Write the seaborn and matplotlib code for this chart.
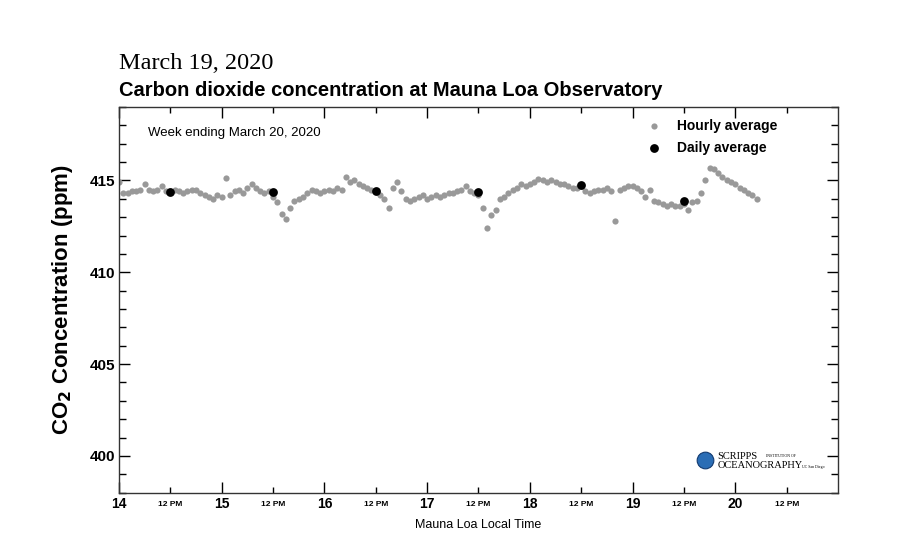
import numpy as np
import pandas as pd
import matplotlib
matplotlib.use("Agg")
import matplotlib.pyplot as plt
import seaborn as sns
from matplotlib.ticker import MultipleLocator

# Hourly averages (ppm), one list per day of March 2020, hours 0..23
hourly_14 = [414.9, 414.3, 414.3, 414.4, 414.4, 414.5, 414.8, 414.5, 414.4, 414.5, 414.7, 414.4,
             414.4, 414.5, 414.4, 414.3, 414.4, 414.5, 414.5, 414.3, 414.2, 414.1, 414.0, 414.2]
hourly_15 = [414.1, 415.15, 414.2, 414.4, 414.5, 414.3, 414.6, 414.8, 414.6, 414.4, 414.3, 414.4,
             414.1, 413.8, 413.2, 412.9, 413.5, 413.9, 414.0, 414.1, 414.3, 414.5, 414.4, 414.3]
hourly_16 = [414.4, 414.5, 414.4, 414.6, 414.5, 415.2, 414.9, 415.0, 414.8, 414.7, 414.6, 414.5,
             414.4, 414.2, 414.0, 413.5, 414.6, 414.9, 414.4, 414.0, 413.9, 414.0, 414.1, 414.2]
hourly_17 = [414.0, 414.1, 414.2, 414.1, 414.2, 414.3, 414.3, 414.4, 414.5, 414.7, 414.4, 414.3,
             414.2, 413.5, 412.4, 413.1, 413.4, 414.0, 414.1, 414.3, 414.5, 414.6, 414.8, 414.7]
hourly_18 = [414.8, 414.9, 415.1, 415.0, 414.9, 415.0, 414.9, 414.8, 414.8, 414.7, 414.6, 414.6,
             414.7, 414.4, 414.3, 414.4, 414.5, 414.5, 414.6, 414.4, 412.8, 414.5, 414.6, 414.7]
hourly_19 = [414.7, 414.6, 414.4, 414.1, 414.5, 413.9, 413.8, 413.7, 413.6, 413.7, 413.6, 413.6,
             413.7, 413.4, 413.8, 413.9, 414.3, 415.0, 415.7, 415.6, 415.4, 415.2, 415.0, 414.9]
hourly_20 = [414.8, 414.6, 414.5, 414.3, 414.2, 414.0]

daily_days = [14.5, 15.5, 16.5, 17.5, 18.5, 19.5]
daily_values = [414.35, 414.35, 414.45, 414.35, 414.73, 413.86]

day_ticks = [14, 15, 16, 17, 18, 19, 20]
day_labels = ["14", "15", "16", "17", "18", "19", "20"]
noon_ticks = [14.5, 15.5, 16.5, 17.5, 18.5, 19.5, 20.5]

# build the hourly table
rows = []
for day, vals in zip(day_ticks, [hourly_14, hourly_15, hourly_16, hourly_17,
                                 hourly_18, hourly_19, hourly_20]):
    for h, v in enumerate(vals):
        rows.append({"day": day + h / 24, "co2": v})
hourly = pd.DataFrame(rows)
daily = pd.DataFrame({"day": daily_days, "co2": daily_values})

sns.set_style("ticks")
plt.rcParams["font.family"] = ["Liberation Sans", "DejaVu Sans"]
for key in ["text.color", "axes.labelcolor", "xtick.color", "ytick.color"]:
    plt.rcParams[key] = "black"

fig = plt.figure(figsize=(9, 5.4), dpi=100)
ax = fig.add_axes([0.1322, 0.0876, 0.7989, 0.7143])

sns.scatterplot(data=hourly, x="day", y="co2", color="#999999", s=20,
                linewidth=0, ax=ax, label="Hourly average", zorder=2)
sns.scatterplot(data=daily, x="day", y="co2", color="black", s=40,
                linewidth=0, ax=ax, label="Daily average", zorder=3)

ax.set_xlim(14, 21)
ax.set_ylim(398, 419)

# x ticks: days (major) and 12 PM (minor)
ax.set_xticks(day_ticks, labels=day_labels)
ax.set_xticks(noon_ticks, labels=["12 PM"] * len(noon_ticks), minor=True)
ax.tick_params(axis="x", which="major", direction="in", length=8, width=1,
               top=True, labelsize=10, pad=3)
ax.tick_params(axis="x", which="minor", direction="in", length=4, width=1,
               top=True, labelsize=6, pad=6)
for lbl in ax.get_xticklabels(which="both"):
    lbl.set_fontweight("bold")

# y ticks
ax.set_yticks([400, 405, 410, 415])
ax.yaxis.set_minor_locator(MultipleLocator(1))
ax.tick_params(axis="y", which="major", direction="in", length=8, width=1,
               right=True, labelsize=11, pad=3)
ax.tick_params(axis="y", which="minor", direction="in", length=5, width=1,
               right=True)
for lbl in ax.get_yticklabels():
    lbl.set_fontweight("bold")

for sp in ax.spines.values():
    sp.set_visible(True)
    sp.set_linewidth(1)
    sp.set_color("#333333")

ax.set_xlabel("Mauna Loa Local Time", fontsize=9, labelpad=6)
ax.set_ylabel(r"CO$_\mathbf{2}$ Concentration (ppm)", fontsize=16,
              fontweight="bold", labelpad=10)

leg = ax.legend(loc="upper left", bbox_to_anchor=(0.734, 0.97), frameon=False,
                handlelength=1, handletextpad=1.2, labelspacing=0.6,
                borderpad=0, borderaxespad=0,
                prop={"weight": "bold", "size": 10})

ax.text(0.04, 0.933, "Week ending March 20, 2020", transform=ax.transAxes,
        fontsize=9.5, va="center", ha="left")

# titles
fig.text(0.132, 0.872, "March 19, 2020", fontsize=17.5, family="Liberation Serif",
         ha="left", va="baseline")
fig.text(0.132, 0.822, "Carbon dioxide concentration at Mauna Loa Observatory",
         fontsize=14.5, fontweight="bold", ha="left", va="baseline")

# Scripps logo (text version)
ax.plot([0.815], [0.085], marker="o", markersize=12, color="#2a6db5",
        markeredgecolor="#123a70", markeredgewidth=0.8,
        transform=ax.transAxes, clip_on=False, zorder=4)
ax.text(0.832, 0.095, "SCRIPPS", transform=ax.transAxes, fontsize=7.5,
        family="Liberation Serif", ha="left", va="center")
ax.text(0.900, 0.095, "INSTITUTION OF", transform=ax.transAxes, fontsize=2.8,
        family="Liberation Serif", ha="left", va="center")
ax.text(0.832, 0.070, "OCEANOGRAPHY", transform=ax.transAxes, fontsize=7.5,
        family="Liberation Serif", ha="left", va="center")
ax.text(0.950, 0.066, "UC San Diego", transform=ax.transAxes, fontsize=2.8,
        family="Liberation Serif", ha="left", va="center")

fig.savefig("out.png", dpi=100)
